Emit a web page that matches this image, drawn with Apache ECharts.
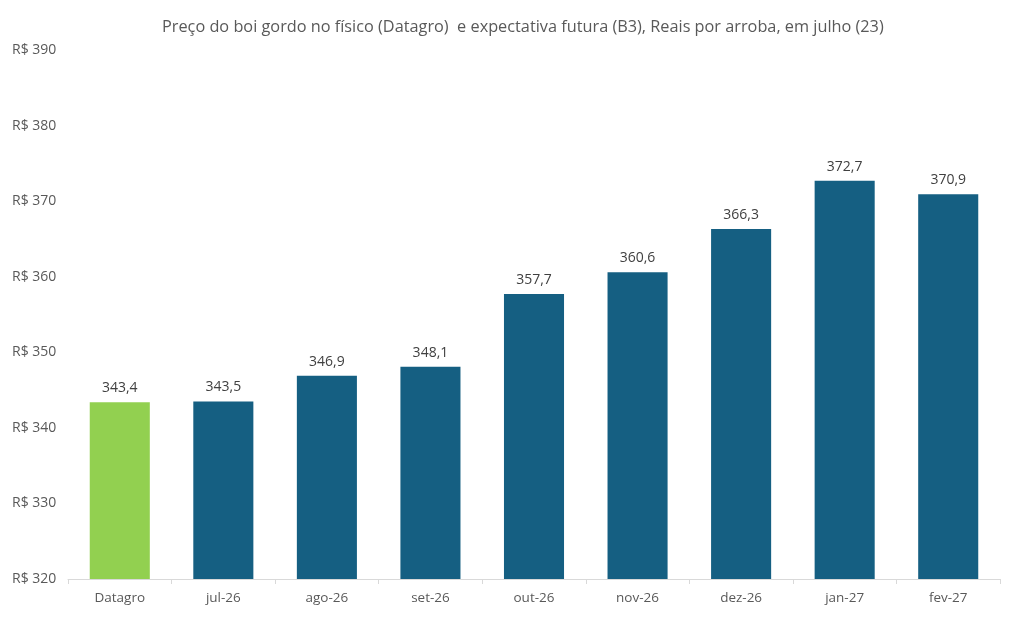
<!DOCTYPE html>
<html>
<head>
<meta charset="utf-8">
<script src="https://cdn.jsdelivr.net/npm/echarts@6/dist/echarts.min.js"></script>
<style>
  html, body { margin: 0; padding: 0; background: #fff; }
  #chart { width: 1011px; height: 629px; }
</style>
</head>
<body>
<div id="chart"></div>
<script>
var categories = ['Datagro', 'jul-26', 'ago-26', 'set-26', 'out-26', 'nov-26', 'dez-26', 'jan-27', 'fev-27'];
var values = [343.4, 343.5, 346.9, 348.1, 357.7, 360.6, 366.3, 372.7, 370.9];
var barColors = ['#92d050', '#155f82', '#155f82', '#155f82', '#155f82', '#155f82', '#155f82', '#155f82', '#155f82'];

var font = '"Open Sans", sans-serif';
var chart = echarts.init(document.getElementById('chart'));

chart.setOption({
  animation: false,
  title: {
    text: 'Preço do boi gordo no físico (Datagro)  e expectativa futura (B3), Reais por arroba, em julho (23)',
    left: 157,
    top: 14,
    textStyle: { fontFamily: font, fontSize: 16.3, fontWeight: 'normal', color: '#595959' }
  },
  grid: { left: 68, right: 11, top: 50, bottom: 50 },
  xAxis: {
    type: 'category',
    data: categories,
    axisLine: { lineStyle: { color: '#d9d9d9' } },
    axisTick: { show: true, alignWithLabel: false, length: 5, lineStyle: { color: '#d9d9d9' } },
    axisLabel: { color: '#595959', fontFamily: font, fontSize: 13.5, margin: 12 }
  },
  yAxis: {
    type: 'value',
    min: 320,
    max: 390,
    interval: 10,
    splitLine: { show: false },
    axisLine: { show: false },
    axisTick: { show: false },
    axisLabel: {
      color: '#595959', fontFamily: font, fontSize: 14, align: 'left', margin: 56,
      formatter: function (v) { return 'R$ ' + v; }
    }
  },
  series: [{
    type: 'bar',
    barWidth: '58%',
    data: values.map(function (v, i) {
      return { value: v, itemStyle: { color: barColors[i] } };
    }),
    label: {
      show: true,
      position: 'top',
      distance: 7,
      color: '#404040',
      fontFamily: font,
      fontSize: 14,
      formatter: function (p) { return p.value.toFixed(1).replace('.', ','); }
    }
  }]
});
</script>
</body>
</html>
